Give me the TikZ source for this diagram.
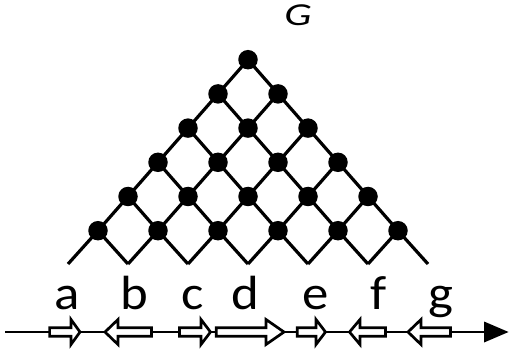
\documentclass[tikz,border=0pt]{standalone}
\usepackage{fontspec}
\setmainfont{Carlito}
\begin{document}
\begin{tikzpicture}[x=1pt,y=1pt,
  dotnode/.style={circle,fill=black,inner sep=0pt,minimum size=19.5pt},
  edge/.style={line width=3.2pt},
  gene/.style={line width=2.7pt,fill=white,line join=miter},
  letter/.style={anchor=base,font=\fontsize{48}{52}\selectfont,inner sep=0pt,xscale=1.1}]
\useasboundingbox (0,0) rectangle (509,354);
% lattice nodes
\foreach \k in {0,...,5}{
  \foreach \j in {0,...,\k}{
    \coordinate (p-\k-\j) at ({248+(2*\j-\k)*30},{294.3-34.2*\k});
  }
}
\foreach \j in {0,...,6}{
  \coordinate (p-6-\j) at ({248+(2*\j-6)*30},{90});
}
% edges
\foreach \k in {0,...,5}{
  \foreach \j in {0,...,\k}{
    \pgfmathtruncatemacro{\kn}{\k+1}
    \pgfmathtruncatemacro{\jn}{\j+1}
    \draw[edge] (p-\k-\j) -- (p-\kn-\j);
    \draw[edge] (p-\k-\j) -- (p-\kn-\jn);
  }
}
% dots
\foreach \k in {0,...,5}{
  \foreach \j in {0,...,\k}{
    \node[dotnode] (n-\k-\j) at (p-\k-\j) {};
  }
}
\node[font=\fontsize{32}{35}\selectfont\itshape,anchor=base,inner sep=0pt,xscale=1.35] (G) at (298,328) {G};
% axis
\coordinate (ax0) at (5,22);
\coordinate (ax1) at (486,22);
\draw[line width=2.7pt] (ax0) -- (ax1);
\fill (484,32.5) -- (508.5,22) -- (484,11.5) -- cycle;
% genes: right-pointing
\foreach \s/\b/\t in {49.6/71/80, 179.5/201/210.5, 216.3/266/284, 297.3/316/325.5}{
  \draw[gene] (\s,26.2) -- (\b,26.2) -- (\b,34.5) -- (\t,22) -- (\b,9.5) -- (\b,17.8) -- (\s,17.8) -- cycle;
}
% genes: left-pointing
\foreach \s/\b/\t in {151.5/118/105, 385.5/360/349.5, 450.5/421/408}{
  \draw[gene] (\s,26.2) -- (\b,26.2) -- (\b,34.5) -- (\t,22) -- (\b,9.5) -- (\b,17.8) -- (\s,17.8) -- cycle;
}
% letters
\node[letter] (la) at (67.5,44.7) {a};
\node[letter] (lb) at (134,44.7) {b};
\node[letter] (lc) at (192.5,44.7) {c};
\node[letter] (ld) at (245,44.7) {d};
\node[letter] (le) at (316,44.7) {e};
\node[letter] (lf) at (379,44.7) {f};
\node[letter] (lg) at (441,44.7) {g};
\end{tikzpicture}
\end{document}
